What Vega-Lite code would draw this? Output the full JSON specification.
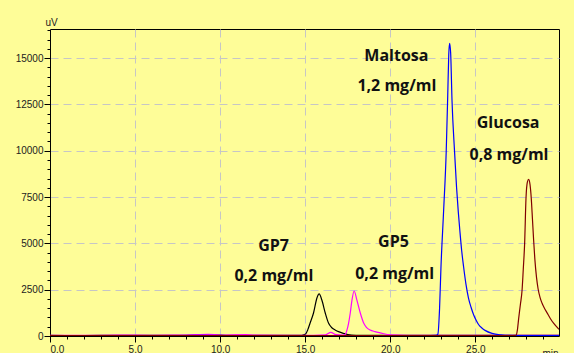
{
  "$schema": "https://vega.github.io/schema/vega-lite/v6.json",
  "autosize": "none",
  "width": 509,
  "height": 307,
  "padding": {"left": 50, "top": 29, "right": 15, "bottom": 17},
  "background": "#fefd98",
  "config": {
    "view": {"stroke": "#000000", "strokeWidth": 1},
    "axis": {
      "labelFont": "Liberation Sans",
      "labelFontSize": 10,
      "labelColor": "#222222",
      "tickColor": "#000000",
      "domainColor": "#000000",
      "titleFont": "Liberation Sans",
      "titleFontSize": 10,
      "titleFontWeight": "normal",
      "titleColor": "#222222"
    }
  },
  "datasets": {
    "traces": [
      {"s": "GP7", "t": 0, "v": 30}, {"s": "GP7", "t": 2, "v": 25}, {"s": "GP7", "t": 4, "v": 35}, {"s": "GP7", "t": 6, "v": 30},
      {"s": "GP7", "t": 8, "v": 40}, {"s": "GP7", "t": 9.5, "v": 55}, {"s": "GP7", "t": 10.5, "v": 35}, {"s": "GP7", "t": 12, "v": 30},
      {"s": "GP7", "t": 14, "v": 30}, {"s": "GP7", "t": 14.8, "v": 40}, {"s": "GP7", "t": 15.0, "v": 90}, {"s": "GP7", "t": 15.15, "v": 330},
      {"s": "GP7", "t": 15.29, "v": 700}, {"s": "GP7", "t": 15.49, "v": 1240}, {"s": "GP7", "t": 15.69, "v": 2050}, {"s": "GP7", "t": 15.82, "v": 2270},
      {"s": "GP7", "t": 15.98, "v": 1940}, {"s": "GP7", "t": 16.18, "v": 1240}, {"s": "GP7", "t": 16.37, "v": 700}, {"s": "GP7", "t": 16.55, "v": 460},
      {"s": "GP7", "t": 16.76, "v": 324}, {"s": "GP7", "t": 17.0, "v": 220}, {"s": "GP7", "t": 17.25, "v": 145}, {"s": "GP7", "t": 17.5, "v": 80},
      {"s": "GP7", "t": 18, "v": 40}, {"s": "GP7", "t": 20, "v": 30}, {"s": "GP7", "t": 22, "v": 30}, {"s": "GP7", "t": 24, "v": 30},
      {"s": "GP7", "t": 26, "v": 30}, {"s": "GP7", "t": 28, "v": 30}, {"s": "GP7", "t": 29.92, "v": 30},

      {"s": "GP5", "t": 0, "v": 40}, {"s": "GP5", "t": 2, "v": 35}, {"s": "GP5", "t": 4, "v": 45}, {"s": "GP5", "t": 6, "v": 40},
      {"s": "GP5", "t": 8, "v": 50}, {"s": "GP5", "t": 9.3, "v": 90}, {"s": "GP5", "t": 10, "v": 50}, {"s": "GP5", "t": 11.5, "v": 70},
      {"s": "GP5", "t": 12, "v": 45}, {"s": "GP5", "t": 14, "v": 40}, {"s": "GP5", "t": 15.5, "v": 40}, {"s": "GP5", "t": 16.2, "v": 60},
      {"s": "GP5", "t": 16.51, "v": 200}, {"s": "GP5", "t": 16.8, "v": 70}, {"s": "GP5", "t": 17.2, "v": 45}, {"s": "GP5", "t": 17.35, "v": 80},
      {"s": "GP5", "t": 17.45, "v": 300}, {"s": "GP5", "t": 17.55, "v": 685}, {"s": "GP5", "t": 17.65, "v": 1240}, {"s": "GP5", "t": 17.75, "v": 1940},
      {"s": "GP5", "t": 17.88, "v": 2430}, {"s": "GP5", "t": 18.04, "v": 1940}, {"s": "GP5", "t": 18.24, "v": 1240}, {"s": "GP5", "t": 18.43, "v": 720},
      {"s": "GP5", "t": 18.6, "v": 470}, {"s": "GP5", "t": 18.82, "v": 324}, {"s": "GP5", "t": 19.1, "v": 240}, {"s": "GP5", "t": 19.41, "v": 170},
      {"s": "GP5", "t": 20, "v": 60}, {"s": "GP5", "t": 21, "v": 40}, {"s": "GP5", "t": 23, "v": 40}, {"s": "GP5", "t": 25, "v": 40},
      {"s": "GP5", "t": 27, "v": 40}, {"s": "GP5", "t": 29.92, "v": 40},

      {"s": "Maltosa", "t": 0, "v": 20}, {"s": "Maltosa", "t": 3, "v": 25}, {"s": "Maltosa", "t": 6, "v": 20}, {"s": "Maltosa", "t": 9, "v": 30},
      {"s": "Maltosa", "t": 12, "v": 20}, {"s": "Maltosa", "t": 15, "v": 20}, {"s": "Maltosa", "t": 18, "v": 20}, {"s": "Maltosa", "t": 20, "v": 25},
      {"s": "Maltosa", "t": 22, "v": 20}, {"s": "Maltosa", "t": 22.7, "v": 30}, {"s": "Maltosa", "t": 22.8, "v": 100}, {"s": "Maltosa", "t": 22.9, "v": 1500},
      {"s": "Maltosa", "t": 22.98, "v": 3670}, {"s": "Maltosa", "t": 23.14, "v": 6800}, {"s": "Maltosa", "t": 23.29, "v": 9950}, {"s": "Maltosa", "t": 23.38, "v": 13000},
      {"s": "Maltosa", "t": 23.44, "v": 15200}, {"s": "Maltosa", "t": 23.49, "v": 15800}, {"s": "Maltosa", "t": 23.55, "v": 15300}, {"s": "Maltosa", "t": 23.63, "v": 12740},
      {"s": "Maltosa", "t": 23.78, "v": 9950}, {"s": "Maltosa", "t": 23.9, "v": 8000}, {"s": "Maltosa", "t": 24.0, "v": 6700}, {"s": "Maltosa", "t": 24.1, "v": 5600},
      {"s": "Maltosa", "t": 24.2, "v": 4600}, {"s": "Maltosa", "t": 24.31, "v": 3750}, {"s": "Maltosa", "t": 24.45, "v": 2800}, {"s": "Maltosa", "t": 24.6, "v": 2050},
      {"s": "Maltosa", "t": 24.75, "v": 1550}, {"s": "Maltosa", "t": 24.9, "v": 1150}, {"s": "Maltosa", "t": 25.05, "v": 850}, {"s": "Maltosa", "t": 25.19, "v": 620},
      {"s": "Maltosa", "t": 25.4, "v": 420}, {"s": "Maltosa", "t": 25.6, "v": 290}, {"s": "Maltosa", "t": 25.98, "v": 145}, {"s": "Maltosa", "t": 26.5, "v": 60},
      {"s": "Maltosa", "t": 27, "v": 30}, {"s": "Maltosa", "t": 28, "v": 25}, {"s": "Maltosa", "t": 29.92, "v": 20},

      {"s": "Glucosa", "t": 0, "v": 15}, {"s": "Glucosa", "t": 4, "v": 20}, {"s": "Glucosa", "t": 8, "v": 15}, {"s": "Glucosa", "t": 12, "v": 20},
      {"s": "Glucosa", "t": 16, "v": 15}, {"s": "Glucosa", "t": 20, "v": 20}, {"s": "Glucosa", "t": 24, "v": 15}, {"s": "Glucosa", "t": 27, "v": 20},
      {"s": "Glucosa", "t": 27.39, "v": 40}, {"s": "Glucosa", "t": 27.47, "v": 300}, {"s": "Glucosa", "t": 27.55, "v": 955}, {"s": "Glucosa", "t": 27.65, "v": 1700},
      {"s": "Glucosa", "t": 27.75, "v": 2480}, {"s": "Glucosa", "t": 27.82, "v": 3600}, {"s": "Glucosa", "t": 27.9, "v": 5000}, {"s": "Glucosa", "t": 27.98, "v": 7430},
      {"s": "Glucosa", "t": 28.06, "v": 8300}, {"s": "Glucosa", "t": 28.14, "v": 8456}, {"s": "Glucosa", "t": 28.22, "v": 8150}, {"s": "Glucosa", "t": 28.29, "v": 7430},
      {"s": "Glucosa", "t": 28.36, "v": 6300}, {"s": "Glucosa", "t": 28.43, "v": 5150}, {"s": "Glucosa", "t": 28.5, "v": 4150}, {"s": "Glucosa", "t": 28.6, "v": 3150},
      {"s": "Glucosa", "t": 28.69, "v": 2550}, {"s": "Glucosa", "t": 28.8, "v": 2100}, {"s": "Glucosa", "t": 28.92, "v": 1780}, {"s": "Glucosa", "t": 29.05, "v": 1520},
      {"s": "Glucosa", "t": 29.22, "v": 1250}, {"s": "Glucosa", "t": 29.4, "v": 960}, {"s": "Glucosa", "t": 29.6, "v": 690}, {"s": "Glucosa", "t": 29.92, "v": 360}
    ],
    "notes": [
      {"kind": "name", "label": "Maltosa", "t": 20.36, "v": 15100},
      {"kind": "name", "label": "Glucosa", "t": 26.93, "v": 11520},
      {"kind": "name", "label": "GP7", "t": 13.14, "v": 4884},
      {"kind": "name", "label": "GP5", "t": 20.19, "v": 5089},
      {"kind": "conc", "label": "1,2 mg/ml", "t": 20.39, "v": 13520},
      {"kind": "conc", "label": "0,8 mg/ml", "t": 26.98, "v": 9785},
      {"kind": "conc", "label": "0,2 mg/ml", "t": 13.16, "v": 3222},
      {"kind": "conc", "label": "0,2 mg/ml", "t": 20.26, "v": 3362}
    ]
  },
  "layer": [
    {
      "data": {"name": "traces"},
      "mark": {"type": "line", "interpolate": "monotone", "strokeWidth": 1.2, "clip": true},
      "encoding": {
        "x": {
          "field": "t", "type": "quantitative",
          "scale": {"domain": [0, 29.92], "nice": false},
          "axis": {
            "orient": "bottom",
            "values": [0, 5, 10, 15, 20, 25],
            "format": ".1f",
            "tickSize": 6,
            "labelPadding": 2,
            "grid": true,
            "gridDash": [8, 5],
            "gridColor": "#c6c6c6",
            "title": "min",
            "titleX": 500,
            "titleY": 12,
            "titleAlign": "center",
            "titleBaseline": "top"
          }
        },
        "y": {
          "field": "v", "type": "quantitative",
          "scale": {"domain": [0, 16570], "nice": false},
          "axis": {
            "orient": "left",
            "values": [0, 2500, 5000, 7500, 10000, 12500, 15000],
            "format": "d",
            "tickSize": 6,
            "labelPadding": 1,
            "grid": true,
            "gridDash": [8, 5],
            "gridColor": "#c6c6c6",
            "title": "uV",
            "titleAngle": 0,
            "titleX": 1,
            "titleY": -2,
            "titleAlign": "center",
            "titleBaseline": "bottom"
          }
        },
        "color": {
          "field": "s", "type": "nominal",
          "scale": {"domain": ["Glucosa", "Maltosa", "GP5", "GP7"], "range": ["#800000", "#0000ff", "#ff00ff", "#000000"]},
          "legend": null
        },
        "order": {"field": "t"}
      }
    },
    {
      "data": {"name": "notes"},
      "transform": [{"filter": "datum.kind === 'name'"}],
      "mark": {"type": "text", "font": "Open Sans", "fontWeight": "bold", "fontSize": 16, "letterSpacing": 0.3, "align": "center", "baseline": "middle", "color": "#111111"},
      "encoding": {
        "x": {
          "field": "t", "type": "quantitative",
          "axis": {"orient": "bottom", "values": [0,1,2,3,4,5,6,7,8,9,10,11,12,13,14,15,16,17,18,19,20,21,22,23,24,25,26,27,28,29], "tickSize": 3, "labels": false, "grid": false, "domain": false, "title": null}
        },
        "y": {
          "field": "v", "type": "quantitative",
          "axis": {"orient": "left", "values": [0,500,1000,1500,2000,2500,3000,3500,4000,4500,5000,5500,6000,6500,7000,7500,8000,8500,9000,9500,10000,10500,11000,11500,12000,12500,13000,13500,14000,14500,15000,15500,16000,16500], "tickSize": 3, "labels": false, "grid": false, "domain": false, "title": null}
        },
        "text": {"field": "label"}
      }
    },
    {
      "data": {"name": "notes"},
      "transform": [{"filter": "datum.kind === 'conc'"}],
      "mark": {"type": "text", "font": "Open Sans", "fontWeight": "bold", "fontSize": 16, "letterSpacing": 0.9, "align": "center", "baseline": "middle", "color": "#111111"},
      "encoding": {
        "x": {"field": "t", "type": "quantitative", "axis": null},
        "y": {"field": "v", "type": "quantitative", "axis": null},
        "text": {"field": "label"}
      }
    }
  ],
  "resolve": {"axis": {"x": "independent", "y": "independent"}}
}
